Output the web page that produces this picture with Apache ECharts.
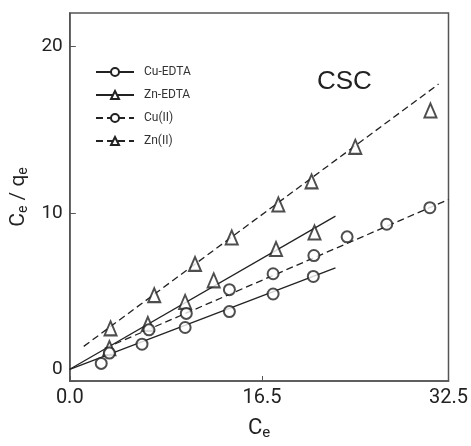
<!DOCTYPE html>
<html>
<head>
<meta charset="utf-8">
<script src="https://cdn.jsdelivr.net/npm/echarts@6/dist/echarts.min.js"></script>
<style>
  html, body { margin: 0; padding: 0; background: #fff; }
  #chart { width: 471px; height: 446px; }
</style>
</head>
<body>
<div id="chart"></div>
<script>
// measured points (Ce, Ce/qe)
const cuEdtaPts = [[2.7, 1.05], [6.2, 2.2], [9.9, 3.2], [13.7, 4.15], [17.45, 5.2], [20.9, 6.25]];
const znEdtaPts = [[3.4, 1.97], [6.7, 3.41], [9.9, 4.73], [12.35, 6.02], [17.7, 7.89], [21.0, 8.88]];
const cuIIPts = [[3.4, 1.67], [6.8, 3.06], [10.0, 4.04], [13.7, 5.46], [17.45, 6.41], [20.95, 7.5], [23.8, 8.62], [27.2, 9.37], [30.9, 10.36]];
const znIIPts = [[3.5, 3.15], [7.25, 5.13], [10.75, 7.0], [13.9, 8.58], [17.9, 10.55], [20.75, 11.93], [24.5, 14.0], [30.95, 16.17]];

// fitted lines, end points
const cuEdtaFit = [[0, 0.7], [22.8, 6.76]];
const znEdtaFit = [[0, 0.7], [22.8, 9.86]];
const cuIIFit = [[3.0, 1.95], [32.5, 10.85]];
const znIIFit = [[1.2, 2.07], [31.65, 17.75]];

const seriesNames = ['Cu-EDTA', 'Zn-EDTA', 'Cu(II)', 'Zn(II)'];
const xTicks = [0, 16.5, 32.5];
const yTicks = [0, 10, 20];

const font = "Roboto, 'Noto Sans', sans-serif";
const ink = '#222';
const axisCol = '#555';

const chart = echarts.init(document.getElementById('chart'));

function fitLine(name, data, symbol, dashed) {
  return {
    name, type: 'line', data,
    symbol, symbolSize: symbol === 'emptyTriangle' ? [11, 12] : 9,
    showSymbol: false,
    lineStyle: { color: ink, width: 1.3, type: dashed ? [7, 4] : 'solid' },
    itemStyle: { color: ink, borderColor: ink, borderWidth: 1.4 },
    silent: true, z: 2
  };
}

function points(name, data, symbol) {
  return {
    name, type: 'scatter', data,
    symbol,
    symbolSize: symbol === 'emptyTriangle' ? [12, 14] : 11,
    itemStyle: { color: ink, borderColor: ink, borderWidth: 1.5 },
    z: 3
  };
}

chart.setOption({
  backgroundColor: '#fff',
  animation: false,
  title: {
    text: 'CSC',
    left: 312, top: 64,
    textStyle: { fontFamily: "'Liberation Sans', Arial, sans-serif", fontSize: 26, fontWeight: 'normal', color: ink }
  },
  legend: {
    data: seriesNames,
    orient: 'vertical',
    left: 90, top: 61,
    itemWidth: 38, itemHeight: 10, itemGap: 11,
    textStyle: { fontFamily: font, fontSize: 12, color: '#333', padding: [0, 0, 0, 5] }
  },
  grid: {
    left: 64, right: 14, top: 13, bottom: 62,
    show: true, borderColor: axisCol, borderWidth: 1.5,
    containLabel: false
  },
  xAxis: {
    type: 'value', min: 0, max: 32.5,
    name: '{b|C}{s|e}',
    nameLocation: 'middle', nameGap: 35,
    nameTextStyle: {
      rich: {
        b: { fontFamily: font, fontSize: 22, color: ink },
        s: { fontFamily: font, fontSize: 15, color: ink, verticalAlign: 'bottom', padding: [10, 0, 0, 0] }
      }
    },
    axisLine: { lineStyle: { color: axisCol, width: 1.5 } },
    axisTick: { inside: true, length: 5, customValues: xTicks, lineStyle: { color: axisCol } },
    axisLabel: {
      customValues: xTicks,
      fontFamily: font, fontSize: 20, color: ink, margin: 7,
      formatter: v => v.toFixed(1)
    },
    splitLine: { show: false }
  },
  yAxis: {
    type: 'value', min: 0, max: 22,
    name: '{b|C}{s|e}{b| / q}{s|e}',
    nameLocation: 'middle', nameGap: 38, nameRotate: 90,
    nameTextStyle: {
      rich: {
        b: { fontFamily: font, fontSize: 21, color: ink },
        s: { fontFamily: font, fontSize: 14, color: ink, padding: [10, 0, 0, 0] }
      }
    },
    axisLine: { lineStyle: { color: axisCol, width: 1.5 } },
    axisTick: { inside: true, length: 6, customValues: yTicks, lineStyle: { color: axisCol } },
    axisLabel: {
      customValues: yTicks,
      fontFamily: font, fontSize: 19, color: ink, margin: 7,
      formatter: v => (v === 0 ? '{z|0}' : String(v)),
      rich: { z: { fontFamily: font, fontSize: 19, color: ink, padding: [0, 0, 24, 0] } }
    },
    splitLine: { show: false }
  },
  series: [
    fitLine('Cu-EDTA', cuEdtaFit, 'emptyCircle', false),
    fitLine('Zn-EDTA', znEdtaFit, 'emptyTriangle', false),
    fitLine('Cu(II)', cuIIFit, 'emptyCircle', true),
    fitLine('Zn(II)', znIIFit, 'emptyTriangle', true),
    points('Cu-EDTA', cuEdtaPts, 'emptyCircle'),
    points('Zn-EDTA', znEdtaPts, 'emptyTriangle'),
    points('Cu(II)', cuIIPts, 'emptyCircle'),
    points('Zn(II)', znIIPts, 'emptyTriangle')
  ]
});
</script>
</body>
</html>
